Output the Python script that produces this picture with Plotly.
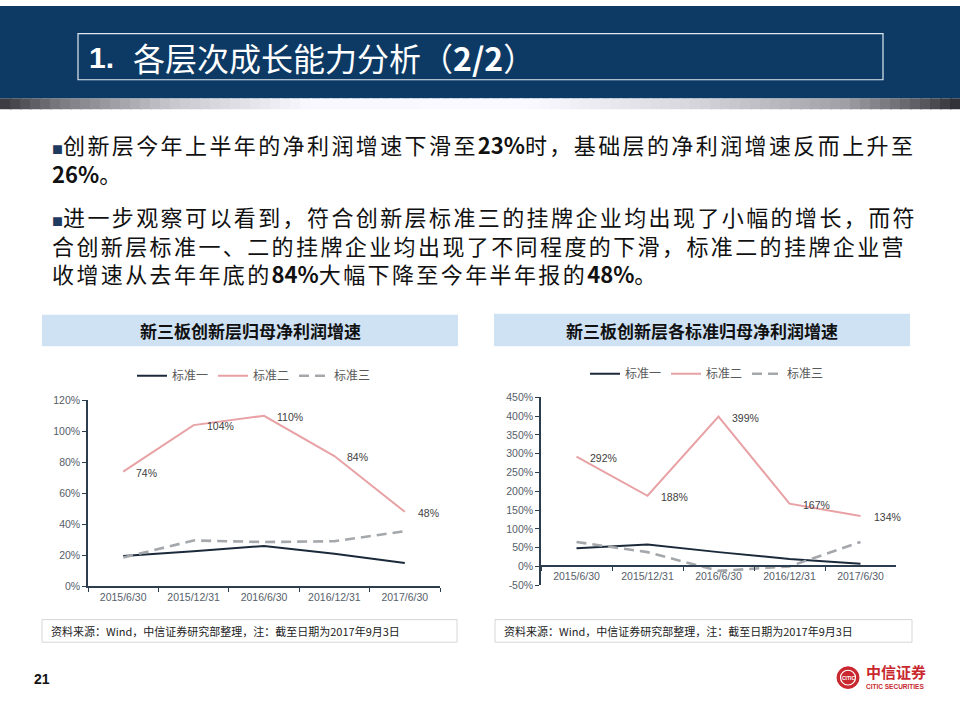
import re
import numpy as np
import plotly.graph_objects as go

W, H = 960, 720

# ---------------- data ----------------
categories = ["2015/6/30", "2015/12/31", "2016/6/30", "2016/12/31", "2017/6/30"]
series_names = ["标准一", "标准二", "标准三"]

left_std1 = [19.5, 22.5, 26, 21, 15]
left_std2 = [74, 104, 110, 84, 48]
left_std3 = [18.5, 29.5, 28.5, 29, 35.5]

right_std1 = [48, 58, 38, 20, 7]
right_std2 = [292, 188, 399, 167, 134]
right_std3 = [65, 38, -12, 0, 65]

left_yticks = [0, 20, 40, 60, 80, 100, 120]
right_yticks = [-50, 0, 50, 100, 150, 200, 250, 300, 350, 400, 450]

left_title = "新三板创新层归母净利润增速"
right_title = "新三板创新层各标准归母净利润增速"
source_text = "资料来源：Wind，中信证券研究部整理，注：截至日期为2017年9月3日"
slide_title_num = "1."
slide_title = "各层次成长能力分析（<b>2/2</b>）"
paragraph_1 = [
    "创新层今年上半年的净利润增速下滑至<b>23%</b>时，基础层的净利润增速反而上升至",
    "<b>26%</b>。",
]
paragraph_2 = [
    "进一步观察可以看到，符合创新层标准三的挂牌企业均出现了小幅的增长，而符",
    "合创新层标准一、二的挂牌企业均出现了不同程度的下滑，标准二的挂牌企业营",
    "收增速从去年年底的<b>84%</b>大幅下降至今年半年报的<b>48%</b>。",
]
page_number = "21"

# ---------------- styles ----------------
CJK = "Noto Sans CJK SC"
LAT = "Liberation Sans, Arial"
colors = ["#1b2a3a", "#e8a2a5", "#a4a7ab"]
widths = [2, 2, 2.6]
dashes = ["solid", "solid", "10px,6px"]
axis_col = "#2c3d4d"
tick_col = "#56606a"


def px(x):
    return x / W


def py(y):
    return 1 - y / H


fig = go.Figure()

left_data = [left_std1, left_std2, left_std3]
right_data = [right_std1, right_std2, right_std3]

for i, name in enumerate(series_names):
    fig.add_trace(go.Scatter(
        x=categories, y=left_data[i], name=name, mode="lines",
        line=dict(color=colors[i], width=widths[i], dash=dashes[i]),
        xaxis="x", yaxis="y", legend="legend", hoverinfo="skip"))
for i, name in enumerate(series_names):
    fig.add_trace(go.Scatter(
        x=categories, y=right_data[i], name=name, mode="lines",
        line=dict(color=colors[i], width=widths[i], dash=dashes[i]),
        xaxis="x2", yaxis="y2", legend="legend2", hoverinfo="skip"))

ann = []
# data labels for 标准二
for c, v in zip(categories, left_std2):
    ann.append(dict(x=c, y=v, xref="x", yref="y", text=f"{v}%", showarrow=False,
                    xanchor="left", yanchor="middle", xshift=11, yshift=-1,
                    font=dict(family=LAT, size=10.5, color="#404040")))
for c, v in zip(categories, right_std2):
    ann.append(dict(x=c, y=v, xref="x2", yref="y2", text=f"{v}%", showarrow=False,
                    xanchor="left", yanchor="middle", xshift=11, yshift=-1,
                    font=dict(family=LAT, size=10.5, color="#404040")))

# axis geometry
lx_dom = [px(88), px(440)]
ly_dom = [py(590), py(401)]
rx_dom = [px(541), px(896)]
ry_dom = [py(589), py(398)]
r_range = [right_yticks[0], right_yticks[-1]]
zero_pos = ry_dom[0] + (0 - r_range[0]) / (r_range[1] - r_range[0]) * (ry_dom[1] - ry_dom[0])

common_x = dict(type="category", categoryorder="array", categoryarray=categories,
                range=[-0.5, len(categories) - 0.5], showgrid=False, zeroline=False,
                showline=True, linecolor=axis_col, linewidth=1.5,
                ticks="outside", tickson="boundaries", ticklen=4, tickcolor=axis_col,
                tickfont=dict(family=LAT, size=10.5, color=tick_col), fixedrange=True)
common_y = dict(showgrid=False, zeroline=False, showline=True, linecolor=axis_col,
                linewidth=1.5, ticks="outside", ticklen=4, tickcolor=axis_col,
                tickfont=dict(family=LAT, size=10.5, color=tick_col), fixedrange=True)

fig.update_layout(
    xaxis=dict(common_x, domain=lx_dom, anchor="y"),
    yaxis=dict(common_y, domain=ly_dom, anchor="x", range=[left_yticks[0], left_yticks[-1]],
               tickvals=left_yticks, ticktext=[f"{v}%" for v in left_yticks]),
    xaxis2=dict(common_x, domain=rx_dom, anchor="free", position=zero_pos),
    yaxis2=dict(common_y, domain=ry_dom, anchor="x2", range=r_range,
                tickvals=right_yticks, ticktext=[f"{v}%" for v in right_yticks]),
)

legend_common = dict(orientation="h", xanchor="center", yanchor="middle",
                     bgcolor="rgba(0,0,0,0)", font=dict(family=CJK, size=12, color="#595959"),
                     itemwidth=30, tracegroupgap=0)
fig.update_layout(
    legend=dict(legend_common, x=px(254), y=py(376)),
    legend2=dict(legend_common, x=px(707), y=py(374)),
)

shapes = []
# header
shapes.append(dict(type="rect", xref="paper", yref="paper", x0=0, x1=1, y0=py(94), y1=1,
                   fillcolor="#0c3a64", line=dict(width=0), layer="below"))
shapes.append(dict(type="rect", xref="paper", yref="paper", x0=px(78), x1=px(883),
                   y0=py(75), y1=py(28), fillcolor="rgba(0,0,0,0)",
                   line=dict(color="#dfe8f0", width=1.2)))
# gradient strip under header
n = 96
xs = np.linspace(0, 1, n + 1)
gx = [0, 0.06, 0.18, 0.32, 0.55, 0.72, 0.88, 0.96, 1.0]
gv = [55, 120, 200, 248, 250, 215, 160, 90, 45]
for k in range(n):
    g = int(np.interp((xs[k] + xs[k + 1]) / 2, gx, gv))
    shapes.append(dict(type="rect", xref="paper", yref="paper", x0=xs[k], x1=xs[k + 1] + 0.002,
                       y0=py(105), y1=py(94), fillcolor=f"rgb({g},{g},{min(255, g + 6)})",
                       line=dict(width=0), layer="below"))
# chart title bars
shapes.append(dict(type="rect", xref="paper", yref="paper", x0=px(42), x1=px(458),
                   y0=py(346), y1=py(314), fillcolor="#cfe2f4", line=dict(width=0), layer="below"))
shapes.append(dict(type="rect", xref="paper", yref="paper", x0=px(494), x1=px(910),
                   y0=py(346), y1=py(313), fillcolor="#cfe2f4", line=dict(width=0), layer="below"))
# source boxes
shapes.append(dict(type="rect", xref="paper", yref="paper", x0=px(42), x1=px(457),
                   y0=py(647), y1=py(624), fillcolor="white", line=dict(color="#d6d6d6", width=1)))
shapes.append(dict(type="rect", xref="paper", yref="paper", x0=px(495), x1=px(912),
                   y0=py(647), y1=py(624), fillcolor="white", line=dict(color="#d6d6d6", width=1)))
# logo circle
shapes.append(dict(type="circle", xref="paper", yref="paper", x0=px(837), x1=px(859),
                   y0=py(694), y1=py(672), fillcolor="#c8282e", line=dict(color="#c8282e", width=1)))
shapes.append(dict(type="circle", xref="paper", yref="paper", x0=px(840.5), x1=px(855.5),
                   y0=py(690.5), y1=py(675.5), fillcolor="rgba(0,0,0,0)",
                   line=dict(color="white", width=1.2)))

# header title
ann.append(dict(x=px(87), y=py(52), xref="paper", yref="paper", text=f"<b>{slide_title_num}</b>",
                showarrow=False, xanchor="left", yanchor="middle",
                font=dict(family=LAT, size=30, color="white")))
ann.append(dict(x=px(131), y=py(52), xref="paper", yref="paper", text=slide_title,
                showarrow=False, xanchor="left", yanchor="middle",
                font=dict(family=CJK, size=32, color="white")))

# body text as two paragraphs (multi-line annotations)
bullet = '<span style="font-size:11px;color:#1f3a5f">■</span>'
spacing = "letter-spacing:2.4px"


def spaced(line):
    parts = re.split(r"(<b>.*?</b>)", line)
    out = []
    for p in parts:
        if not p:
            continue
        if p.startswith("<b>"):
            out.append(p)
        else:
            out.append(f'<span style="{spacing}">{p}</span>')
    return "".join(out)


def para(lines):
    out = []
    for j, ln in enumerate(lines):
        prefix = bullet if j == 0 else ""
        out.append(prefix + spaced(ln))
    return "<br>".join(out)


ann.append(dict(x=px(50), y=py(155), xref="paper", yref="paper", text=para(paragraph_1),
                showarrow=False, xanchor="left", yanchor="middle", align="left",
                font=dict(family=CJK, size=22, color="#111111")))
ann.append(dict(x=px(50), y=py(243), xref="paper", yref="paper", text=para(paragraph_2),
                showarrow=False, xanchor="left", yanchor="middle", align="left",
                font=dict(family=CJK, size=22, color="#111111")))

# chart titles
ann.append(dict(x=px(250), y=py(330), xref="paper", yref="paper", text=f"<b>{left_title}</b>",
                showarrow=False, xanchor="center", yanchor="middle",
                font=dict(family=CJK, size=17, color="#111111")))
ann.append(dict(x=px(702), y=py(330), xref="paper", yref="paper", text=f"<b>{right_title}</b>",
                showarrow=False, xanchor="center", yanchor="middle",
                font=dict(family=CJK, size=17, color="#111111")))

# sources
for xv in (49, 502):
    ann.append(dict(x=px(xv), y=py(635.5), xref="paper", yref="paper", text=source_text,
                    showarrow=False, xanchor="left", yanchor="middle",
                    font=dict(family=CJK, size=11, color="#222222")))

# page number
ann.append(dict(x=px(32), y=py(684), xref="paper", yref="paper", text=f"<b>{page_number}</b>",
                showarrow=False, xanchor="left", yanchor="middle",
                font=dict(family=LAT, size=14, color="#111111")))
# logo text
ann.append(dict(x=px(864), y=py(677), xref="paper", yref="paper", text="<b>中信证券</b>",
                showarrow=False, xanchor="left", yanchor="middle",
                font=dict(family=CJK, size=15, color="#c8282e")))
ann.append(dict(x=px(864), y=py(692), xref="paper", yref="paper", text="<b>CITIC SECURITIES</b>",
                showarrow=False, xanchor="left", yanchor="middle",
                font=dict(family=LAT, size=6.5, color="#c8282e")))
ann.append(dict(x=px(848), y=py(683), xref="paper", yref="paper", text="<b>CITIC</b>",
                showarrow=False, xanchor="center", yanchor="middle",
                font=dict(family=LAT, size=5, color="white")))

fig.update_layout(
    width=W, height=H, margin=dict(l=0, r=0, t=0, b=0),
    paper_bgcolor="white", plot_bgcolor="white",
    shapes=shapes, annotations=ann, showlegend=True,
)

fig.write_html("out.html")
